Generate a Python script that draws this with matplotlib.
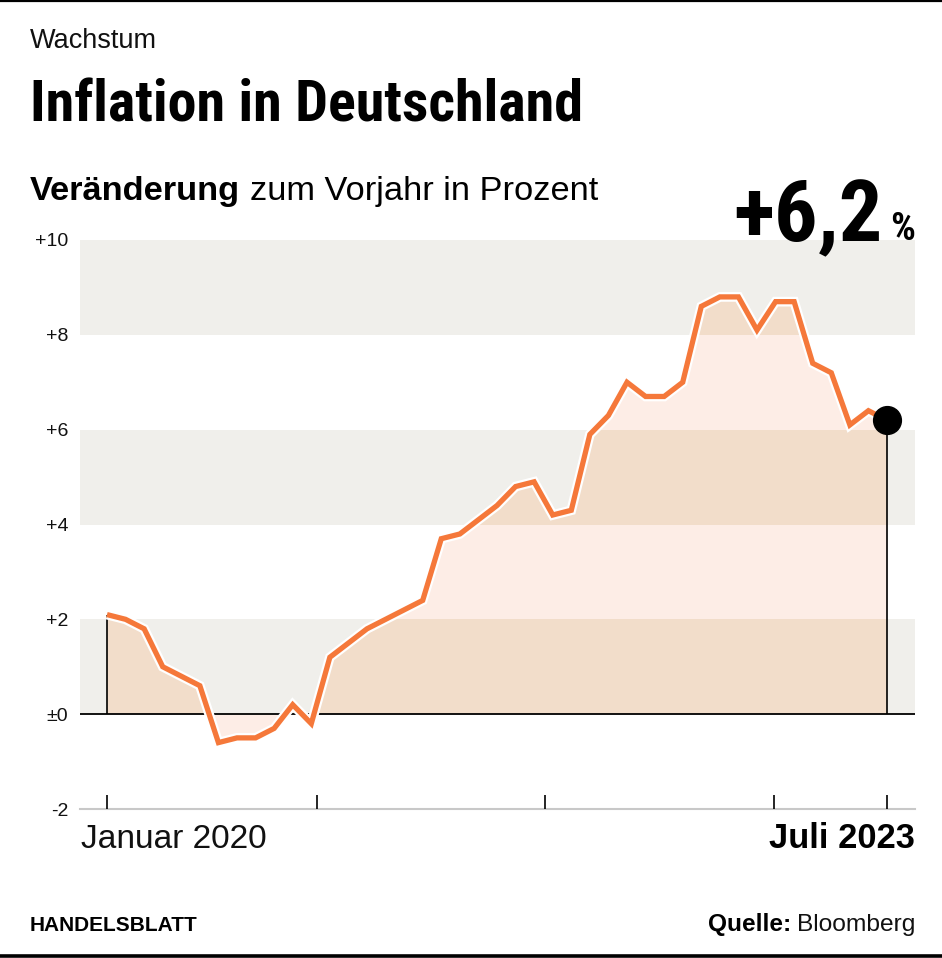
import matplotlib
matplotlib.use("Agg")
import matplotlib.pyplot as plt
import matplotlib.patheffects as pe
from matplotlib import font_manager
import numpy as np

# ---------------- data ----------------
values = [2.1, 2.0, 1.8, 1.0, 0.8, 0.6, -0.6, -0.5, -0.5, -0.3, 0.2, -0.2,
          1.2, 1.5, 1.8, 2.0, 2.2, 2.4, 3.7, 3.8, 4.1, 4.4, 4.8, 4.9,
          4.2, 4.3, 5.9, 6.3, 7.0, 6.7, 6.7, 7.0, 8.6, 8.8, 8.8, 8.1,
          8.7, 8.7, 7.4, 7.2, 6.1, 6.4, 6.2]
months = list(range(len(values)))          # Jan 2020 .. Jul 2023
y_ticks = [-2, 0, 2, 4, 6, 8, 10]
y_labels = ["-2", "±0", "+2", "+4", "+6", "+8", "+10"]
bands = [(0, 2), (4, 6), (8, 10)]
x_ticks = [0, 11.3, 23.6, 35.9, 42]
x_first_label = "Januar 2020"
x_last_label = "Juli 2023"
last_value_label = "+6,2"

# ---------------- fonts ----------------
names = {f.name for f in font_manager.fontManager.ttflist}
body = "Liberation Sans" if "Liberation Sans" in names else "DejaVu Sans"
cond = next((n for n in ["Roboto Condensed", "Liberation Sans Narrow",
                         "Open Sans Condensed", "Noto Sans Display"] if n in names), body)

W, H = 942, 958
fig = plt.figure(figsize=(W / 100, H / 100), dpi=100)
fig.patch.set_facecolor("white")
renderer = fig.canvas.get_renderer()

def fx(x):
    return x / W

def fy(y):
    return 1 - y / H

def fit_text(x, y, s, width, ha="left", **kw):
    t = fig.text(fx(x), fy(y), s, ha=ha, va="baseline", fontsize=20, **kw)
    w = t.get_window_extent(renderer).width
    t.set_fontsize(20 * width / w)
    return t

# ---------------- axes ----------------
ax_l, ax_r, ax_t, ax_b = 80, 915, 240, 809
ax = fig.add_axes([fx(ax_l), fy(ax_b), (ax_r - ax_l) / W, (ax_b - ax_t) / H])
x0px, x1px = 107, 887
pxm = (x1px - x0px) / (len(values) - 1)
ax.set_xlim(-(x0px - ax_l) / pxm, (len(values) - 1) + (ax_r - x1px) / pxm)
ax.set_ylim(-2, 10)
for s in ax.spines.values():
    s.set_visible(False)
ax.set_facecolor("none")

band_col = "#f0efeb"
for lo, hi in bands:
    ax.axhspan(lo, hi, color=band_col, lw=0, zorder=0)

fill = ax.fill_between(months, values, 0, color="#fdede6", lw=0, zorder=1)
clip_path = fill.get_paths()[0]
for lo, hi in bands:
    r = ax.axhspan(lo, hi, color="#f2ddca", lw=0, zorder=1.5)
    r.set_clip_path(clip_path, ax.transData)

ax.axhline(0, color="black", lw=1.3, zorder=3)
ax.axhline(-2, color="#c8c8c8", lw=1.5, zorder=3, clip_on=False)
tick_h = 14 / ((ax_b - ax_t) / 12)
ax.vlines(x_ticks, -2, -2 + tick_h, color="black", lw=1.2, zorder=3)
ax.vlines([months[0], months[-1]], 0, [values[0], values[-1]],
          color="black", lw=1.2, zorder=3)

ax.plot(months, values, color="#f5783a", lw=3.8, zorder=4,
        solid_joinstyle="miter", solid_capstyle="butt",
        path_effects=[pe.Stroke(linewidth=7.0, foreground="white"), pe.Normal()])
ax.plot([months[-1]], [values[-1]], "o", color="black", ms=20, zorder=5, clip_on=False)

ax.set_xticks([])
ax.set_yticks(y_ticks)
ax.set_yticklabels(y_labels, fontsize=14, family=body, color="#111111")
ax.tick_params(axis="y", length=0, pad=8.5)
for lab in ax.get_yticklabels():
    lab.set_va("center_baseline")

# ---------------- texts ----------------
fit_text(30, 48, "Wachstum", 127, family=body, color="#111111")
fit_text(30, 121, "Inflation in Deutschland", 553, family=cond, weight="bold", color="black")

# subtitle in two weights
t1 = fig.text(fx(30), fy(200), "Veränderung", ha="left", va="baseline", fontsize=20,
              family=body, weight="bold")
t2 = fig.text(fx(30), fy(200), "zum Vorjahr in Prozent", ha="left", va="baseline",
              fontsize=20, family=body)
w1 = t1.get_window_extent(renderer).width
w2 = t2.get_window_extent(renderer).width
gap0 = 0.28 * 20 * 100 / 72
sc = 567 / (w1 + w2 + gap0)
t1.set_fontsize(20 * sc)
t2.set_fontsize(20 * sc)
w1 = t1.get_window_extent(renderer).width
t2.set_position((fx(30 + w1 + gap0 * sc), fy(200)))

# big value
fit_text(915, 240, "%", 25, ha="right", family=cond, weight="bold")
fit_text(883, 241, last_value_label, 150, ha="right", family=cond, weight="bold")

# x labels
fit_text(81, 848, x_first_label, 186, family=body, color="#111111")
fit_text(915, 848, x_last_label, 146, ha="right", family=body, weight="bold")

# footer
fit_text(30, 931, "HANDELSBLATT", 168, family=body, weight="bold")
tb = fit_text(915, 931, "Bloomberg", 118, ha="right", family=body, color="#111111")
wb = tb.get_window_extent(renderer).width
tq = fig.text(fx(915 - wb - 5), fy(931), "Quelle:", ha="right", va="baseline",
              fontsize=tb.get_fontsize(), family=body, weight="bold")

# borders
fig.add_artist(plt.Line2D([0, 1], [fy(1), fy(1)], color="black", lw=1.6))
fig.add_artist(plt.Line2D([0, 1], [fy(955.5), fy(955.5)], color="black", lw=2.6))

fig.savefig("out.png", dpi=100, facecolor="white")
